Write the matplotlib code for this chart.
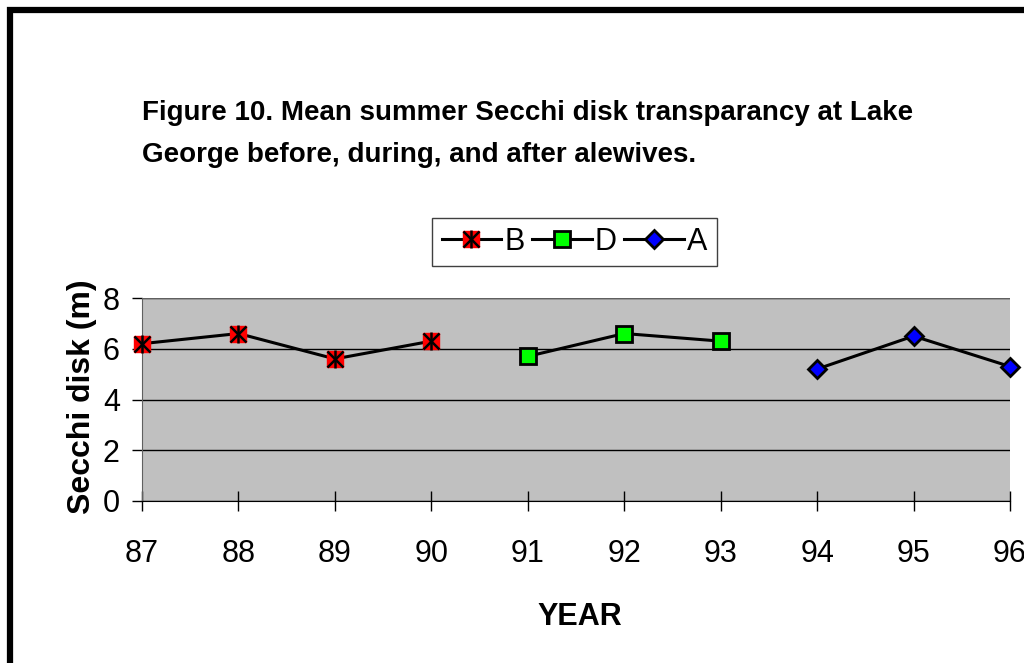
import matplotlib.pyplot as plt
from matplotlib.patches import Rectangle
from matplotlib.legend_handler import HandlerTuple
from matplotlib.lines import Line2D

plt.rcParams['font.family'] = ['Liberation Sans', 'DejaVu Sans']

# data
years_b = [87, 88, 89, 90]
secchi_b = [6.2, 6.6, 5.6, 6.3]
years_d = [91, 92, 93]
secchi_d = [5.7, 6.6, 6.3]
years_a = [94, 95, 96]
secchi_a = [5.2, 6.5, 5.3]
xticks = [87, 88, 89, 90, 91, 92, 93, 94, 95, 96]
yticks = [0, 2, 4, 6, 8]

fig = plt.figure(figsize=(10.24, 6.63), dpi=100)
ax = fig.add_axes([142/1024, 1 - 501/663, 868/1024, 203/663])
ax.set_facecolor('#c0c0c0')

# B: red square with black asterisk
ax.plot(years_b, secchi_b, color='black', lw=2.2, zorder=3)
ax.plot(years_b, secchi_b, ls='none', marker='s', ms=12, mfc='red', mec='red',
        zorder=4, clip_on=False)
ax.plot(years_b, secchi_b, ls='none', marker='x', ms=11, mec='black', mew=1.8,
        zorder=5, clip_on=False)
ax.plot(years_b, secchi_b, ls='none', marker='|', ms=13, mec='black', mew=1.8,
        zorder=5, clip_on=False)

# D: green squares
ax.plot(years_d, secchi_d, color='black', lw=2.2, marker='s', ms=11,
        mfc='#00ff00', mec='black', mew=2, zorder=3)

# A: blue diamonds
ax.plot(years_a, secchi_a, color='black', lw=2.2, marker='D', ms=9,
        mfc='#0000ff', mec='black', mew=2, zorder=3, clip_on=False)

ax.set_xlim(87, 96)
ax.set_ylim(0, 8)
ax.set_xticks(xticks)
ax.set_yticks(yticks)
ax.set_xticklabels([str(x) for x in xticks], fontsize=22)
ax.set_yticklabels([str(y) for y in yticks], fontsize=22)
ax.yaxis.grid(True, color='black', lw=1)
ax.set_axisbelow(True)
for s in ['top', 'right']:
    ax.spines[s].set_visible(False)
ax.spines['left'].set_color('#606060')
ax.spines['bottom'].set_color('black')
ax.axhline(8, color='#606060', lw=1.5, zorder=2)
ax.tick_params(axis='x', direction='inout', length=14, width=1, pad=20, colors='black')
ax.tick_params(axis='y', direction='out', length=7, width=1, pad=9)

fig.text(580/1024, 1 - 617/663, 'YEAR', fontsize=22, fontweight='bold',
         ha='center', va='center')
fig.text(82/1024, 1 - 397/663, 'Secchi disk (m)', fontsize=23, fontweight='bold',
         rotation=90, ha='center', va='center')

fig.text(142/1024, 1 - 113/663, 'Figure 10. Mean summer Secchi disk transparancy at Lake',
         fontsize=20, fontweight='bold', va='center', ha='left')
fig.text(142/1024, 1 - 155/663, 'George before, during, and after alewives.',
         fontsize=20, fontweight='bold', va='center', ha='left')

# legend
hb = (Line2D([], [], color='black', lw=2.2),
      Line2D([], [], ls='none', marker='s', ms=12, mfc='red', mec='red'),
      Line2D([], [], ls='none', marker='x', ms=11, mec='black', mew=1.8),
      Line2D([], [], ls='none', marker='|', ms=13, mec='black', mew=1.8))
hd = Line2D([], [], color='black', lw=2.2, marker='s', ms=11, mfc='#00ff00', mec='black', mew=2)
ha = Line2D([], [], color='black', lw=2.2, marker='D', ms=9, mfc='#0000ff', mec='black', mew=2)
leg = fig.legend([hb, hd, ha], ['B', 'D', 'A'], loc='center',
                 bbox_to_anchor=(574.5/1024, 1 - 242/663), ncol=3, fontsize=22,
                 handler_map={tuple: HandlerTuple(ndivide=1)},
                 frameon=True, fancybox=False, edgecolor='#404040', framealpha=1,
                 handlelength=1.95, handletextpad=0.1, columnspacing=0.25, borderpad=0.3)
leg.get_frame().set_linewidth(1)

# outer chart frame (extends past the image edge)
fig.patches.append(Rectangle((10/1024, -0.2), 1.2, 1 - 10/663 + 0.2,
                             transform=fig.transFigure, fill=False,
                             edgecolor='black', lw=4.5))

fig.savefig('out.png', dpi=100)
